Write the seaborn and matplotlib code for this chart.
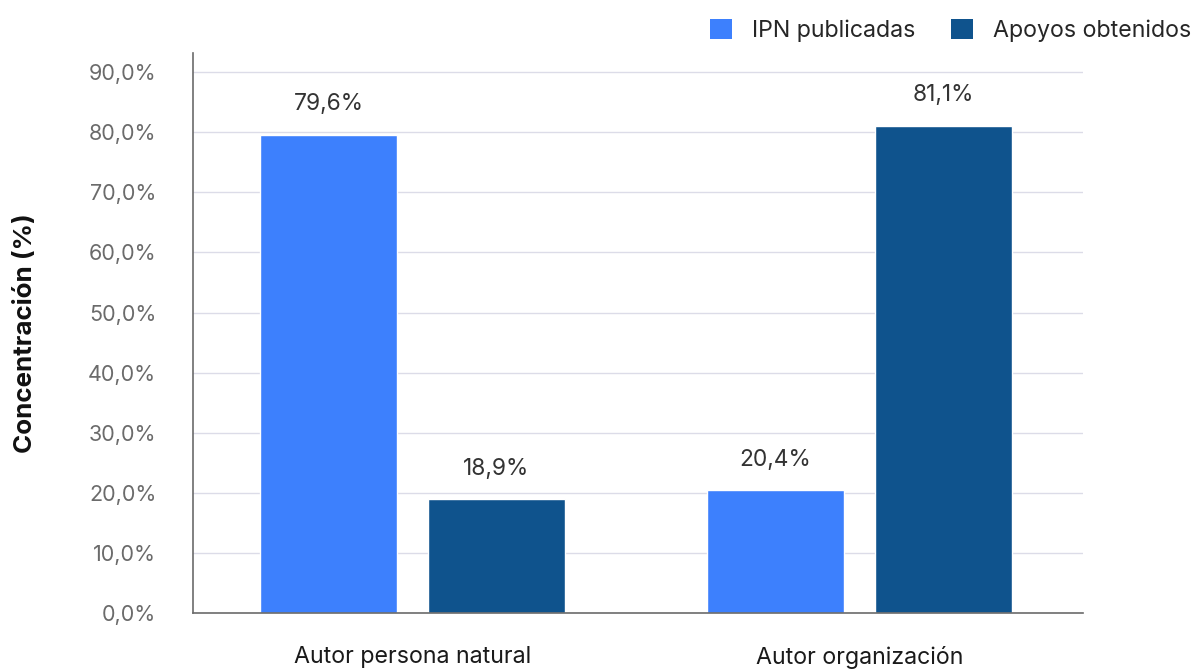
import matplotlib
matplotlib.use("Agg")
import matplotlib.pyplot as plt
import seaborn as sns
import pandas as pd
from matplotlib.patches import Patch

categories = ["Autor persona natural", "Autor organización"]
series = ["IPN publicadas", "Apoyos obtenidos"]
ipn = [79.6, 20.4]
apoyos = [18.9, 81.1]
colors = ["#3d80fd", "#0f538d"]

sns.set_theme(style="white")
plt.rcParams["font.family"] = ["Inter", "DejaVu Sans"]

df = pd.DataFrame({
    "cat": categories * 2,
    "serie": [series[0]] * 2 + [series[1]] * 2,
    "val": ipn + apoyos,
})

fig = plt.figure(figsize=(11.93, 6.71), dpi=100)
ax = fig.add_axes([193/1193, 1 - 613/671, (1083-193)/1193, (613-53)/671])

sns.barplot(data=df, x="cat", y="val", hue="serie", palette=colors,
            width=0.752, gap=0.186, ax=ax, legend=False, saturation=1)

ax.set_xlim(-0.491, 1.5)
ax.set_ylim(0, 93.2)
ticks = [i * 10 for i in range(10)]
ax.set_yticks(ticks)
ax.set_yticklabels([f"{t:.1f}%".replace(".", ",") for t in ticks], color="#6b6b6b", fontsize=15.5)
ax.yaxis.grid(True, color="#dcdce8", linewidth=1)
ax.set_axisbelow(True)
ax.tick_params(axis="y", length=9.4, color="#dcdce8", width=1, pad=17)
ax.tick_params(axis="x", length=0, pad=24, labelsize=16.7, labelcolor="#1a1a1a")

for s in ["top", "right"]:
    ax.spines[s].set_visible(False)
for s in ["left", "bottom"]:
    ax.spines[s].set_color("#6b6b6b")
    ax.spines[s].set_linewidth(1.2)

ax.set_xlabel("")
ax.set_ylabel("Concentración (%)", fontsize=18.7, fontweight="bold", color="#111111", labelpad=37)

for cont in ax.containers:
    labels = [f"{v:.1f}%".replace(".", ",") for v in cont.datavalues]
    ax.bar_label(cont, labels=labels, padding=14, fontsize=16.4, color="#333333")

handles = [Patch(facecolor=c, edgecolor="none") for c in colors]
fig.legend(handles, series, loc="upper right", bbox_to_anchor=(1.013, 0.998), ncol=2,
           frameon=False, fontsize=16.7, handlelength=0.95, handleheight=0.95,
           handletextpad=0.85, columnspacing=1.55, borderaxespad=0.35)

fig.savefig("out.png", dpi=100)
